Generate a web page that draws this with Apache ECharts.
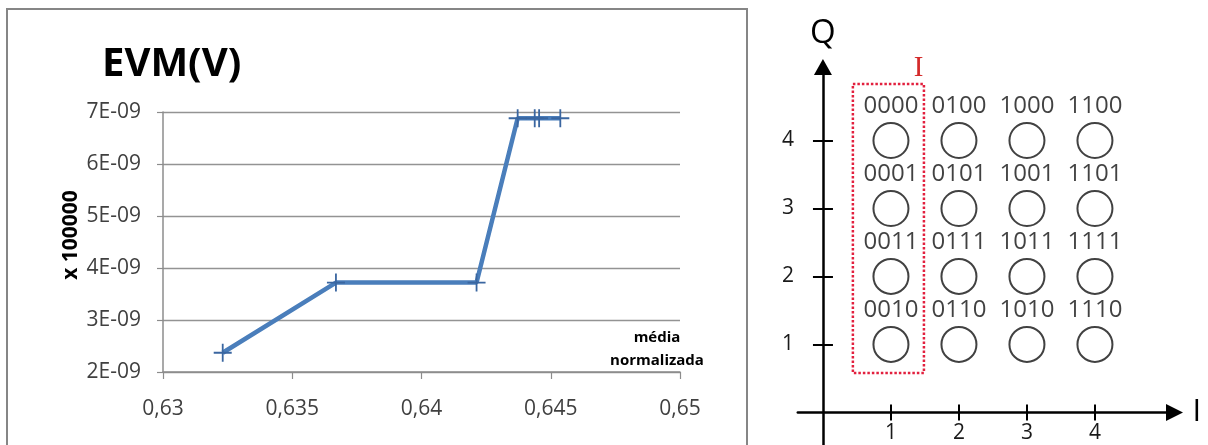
<!DOCTYPE html>
<html>
<head>
<meta charset="utf-8">
<script src="https://cdn.jsdelivr.net/npm/echarts@6/dist/echarts.min.js"></script>
<style>
html,body{margin:0;padding:0;background:#fff;}
#main{width:1208px;height:445px;}
</style>
</head>
<body>
<div id="main"></div>
<script>
// ---- Left chart data: EVM(V) vs média normalizada ----
const xValues = [0.63231, 0.63669, 0.64213, 0.64372, 0.64438, 0.64455, 0.64537];
const evmValues = [2.37e-9, 3.72e-9, 3.72e-9, 6.88e-9, 6.88e-9, 6.88e-9, 6.88e-9];
const xTickMin = 0.63, xTickMax = 0.65, xTickStep = 0.005;
const yTickMin = 2e-9, yTickMax = 7e-9, yTickStep = 1e-9;

// ---- Right diagram data: 16-point constellation ----
const iValues = [1, 2, 3, 4];
const qValues = [4, 3, 2, 1];
const bitLabels = [
  ['0000', '0100', '1000', '1100'],
  ['0001', '0101', '1001', '1101'],
  ['0011', '0111', '1011', '1111'],
  ['0010', '0110', '1010', '1110']
];
const iTicks = [1, 2, 3, 4];
const qTicks = [1, 2, 3, 4];
const iRange = [-0.37, 5.17];
const qRange = [-0.48, 5.08];
const boxI = [0.44, 1.485];
const boxQ = [0.58, 4.83];

const lineData = xValues.map((x, k) => [x, evmValues[k]]);
const constData = [];
qValues.forEach((q, r) => {
  iValues.forEach((i, c) => {
    constData.push([i, q, bitLabels[r][c]]);
  });
});

const plusPath = 'path://M-1,-10 L1,-10 L1,-1 L10,-1 L10,1 L1,1 L1,10 L-1,10 L-1,1 L-10,1 L-10,-1 L-1,-1 Z';
const FONT = 'Open Sans';

// layout of the constellation grid (pixels)
const g2 = {left: 797.8, right: 33.5, top: 67.1, bottom: 0};
const g2w = 1208 - g2.left - g2.right;
const g2h = 445 - g2.top - g2.bottom;
const pxPerI = g2w / (iRange[1] - iRange[0]);
const pxPerQ = g2h / (qRange[1] - qRange[0]);
const xAxisShift = -(0 - qRange[0]) * pxPerQ;   // bring I axis up to Q = 0
const yAxisShift = -(0 - iRange[0]) * pxPerI;   // bring Q axis right to I = 0

const chart = echarts.init(document.getElementById('main'), null, {renderer: 'canvas'});
chart.setOption({
  animation: false,
  backgroundColor: '#ffffff',
  title: {
    text: 'EVM(V)',
    left: 97,
    top: 40,
    textStyle: {fontFamily: FONT, fontWeight: 'bold', fontSize: 40, color: '#000'}
  },
  graphic: [{
    type: 'rect',
    silent: true,
    shape: {x: 7, y: 9, width: 740, height: 520},
    style: {fill: 'none', stroke: '#868686', lineWidth: 2}
  }],
  grid: [
    {left: 163, right: 528, top: 112, bottom: 73, outerBoundsMode: 'none', containLabel: false},
    {left: g2.left, right: g2.right, top: g2.top, bottom: g2.bottom, outerBoundsMode: 'none', containLabel: false}
  ],
  xAxis: [
    {
      gridIndex: 0, type: 'value', min: xTickMin, max: xTickMax, interval: xTickStep,
      axisLine: {lineStyle: {color: '#8c8c8c', width: 1.5}},
      axisTick: {length: 7, lineStyle: {color: '#8c8c8c', width: 1.2}},
      axisLabel: {
        margin: 27, color: '#404040', fontFamily: FONT, fontSize: 21,
        formatter: v => String(+v.toFixed(3)).replace('.', ',')
      },
      splitLine: {show: false},
      name: 'média\nnormalizada',
      nameLocation: 'end',
      nameGap: -23,
      nameTextStyle: {
        fontFamily: FONT, fontWeight: 'bold', fontSize: 15, lineHeight: 23,
        color: '#000', align: 'center', verticalAlign: 'bottom'
      }
    },
    {
      gridIndex: 1, type: 'value', min: iRange[0], max: iRange[1], position: 'bottom', offset: xAxisShift,
      axisLine: {onZero: false, symbol: ['none', 'triangle'], symbolSize: [17, 17],
        lineStyle: {color: '#000', width: 2.5}},
      axisTick: {customValues: iTicks, length: 8, lineStyle: {color: '#000', width: 2}},
      axisLabel: {customValues: iTicks, margin: 10, color: '#1a1a1a', fontFamily: FONT, fontSize: 21},
      splitLine: {show: false},
      name: 'I', nameLocation: 'end', nameGap: 18,
      nameTextStyle: {fontFamily: FONT, fontSize: 31, color: '#000', padding: [6, 0, 0, 0]}
    },
    {
      gridIndex: 1, type: 'value', min: iRange[0], max: iRange[1], position: 'bottom', offset: xAxisShift,
      axisLine: {onZero: false, lineStyle: {color: '#000', width: 0, opacity: 0}},
      axisTick: {customValues: iTicks, inside: true, length: 8, lineStyle: {color: '#000', width: 2}},
      axisLabel: {show: false},
      splitLine: {show: false}
    }
  ],
  yAxis: [
    {
      gridIndex: 0, type: 'value', min: yTickMin, max: yTickMax, interval: yTickStep,
      axisLine: {show: true, lineStyle: {color: '#8c8c8c', width: 1.5}},
      axisTick: {show: true, length: 6, lineStyle: {color: '#8c8c8c', width: 1.2}},
      axisLabel: {
        margin: 22, color: '#404040', fontFamily: FONT, fontSize: 21,
        formatter: v => Math.round(v / 1e-9) + 'E-09'
      },
      splitLine: {lineStyle: {color: '#939393', width: 1.3}},
      name: 'x 100000',
      nameLocation: 'middle',
      nameGap: 81,
      nameTextStyle: {fontFamily: FONT, fontWeight: 'bold', fontSize: 21, color: '#000', padding: [0, 0, 0, 14]}
    },
    {
      gridIndex: 1, type: 'value', min: qRange[0], max: qRange[1], position: 'left', offset: yAxisShift,
      axisLine: {onZero: false, symbol: ['none', 'triangle'], symbolSize: [18, 16],
        lineStyle: {color: '#000', width: 2.5}},
      axisTick: {customValues: qTicks, length: 10, lineStyle: {color: '#000', width: 2}},
      axisLabel: {customValues: qTicks, margin: 29, color: '#1a1a1a', fontFamily: FONT, fontSize: 21},
      splitLine: {show: false},
      name: 'Q', nameLocation: 'end', nameGap: 17,
      nameTextStyle: {fontFamily: FONT, fontSize: 33, color: '#000'}
    },
    {
      gridIndex: 1, type: 'value', min: qRange[0], max: qRange[1], position: 'left', offset: yAxisShift,
      axisLine: {onZero: false, lineStyle: {color: '#000', width: 0, opacity: 0}},
      axisTick: {customValues: qTicks, inside: true, length: 10, lineStyle: {color: '#000', width: 2}},
      axisLabel: {show: false},
      splitLine: {show: false}
    }
  ],
  series: [
    {
      type: 'line',
      xAxisIndex: 0, yAxisIndex: 0,
      data: lineData,
      symbol: plusPath,
      symbolSize: 18,
      showAllSymbol: true,
      lineStyle: {color: '#4A7EBB', width: 4.5},
      itemStyle: {color: '#3A66A0'},
      emphasis: {disabled: true},
      z: 3
    },
    {
      type: 'scatter',
      xAxisIndex: 1, yAxisIndex: 1,
      data: constData,
      symbol: 'circle',
      symbolSize: 35,
      itemStyle: {color: 'rgba(255,255,255,0)', borderColor: '#111', borderWidth: 2},
      label: {
        show: true, position: 'top', distance: 4,
        formatter: p => p.data[2],
        fontFamily: FONT, fontSize: 24, color: '#111'
      },
      emphasis: {disabled: true},
      markArea: {
        silent: true,
        itemStyle: {color: 'rgba(0,0,0,0)', borderColor: '#E2203E', borderWidth: 2.5, borderType: [2.5, 2]},
        label: {
          show: true, position: [67, -14], align: 'center', verticalAlign: 'middle',
          fontFamily: 'Liberation Serif', fontSize: 29, color: '#D42A2A'
        },
        emphasis: {disabled: true},
        data: [[
          {coord: [boxI[0], boxQ[1]], name: 'I'},
          {coord: [boxI[1], boxQ[0]]}
        ]]
      }
    }
  ]
});
</script>
</body>
</html>
